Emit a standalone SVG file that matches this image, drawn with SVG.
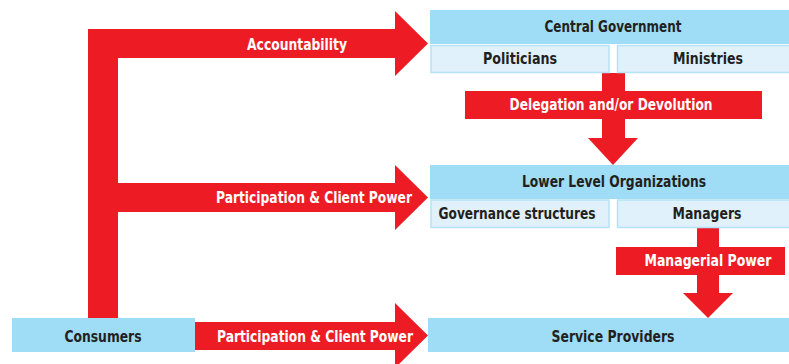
<svg xmlns="http://www.w3.org/2000/svg" width="789" height="364" viewBox="0 0 789 364">
<style>
.hd{fill:#9fdcf5}
.sb{fill:#e0f1fb;stroke:#b5e3f7;stroke-width:1.5}
.ar{fill:#ed1c24}
text{font-family:"DejaVu Sans Condensed","Liberation Sans",sans-serif;font-weight:bold;font-size:16.5px;text-anchor:middle}
.dk{fill:#231f20}
.wt{fill:#ffffff}
</style>
<rect width="789" height="364" fill="#ffffff"/>
<g id="connectors">
<polygon class="ar" points="88,318 88,29 395,29 395,11 428,43.5 395,76 395,58 118,58 118,318"/>
<polygon class="ar" points="118,183 395,183 395,165 428,197.5 395,230 395,212 118,212"/>
<polygon class="ar" points="195,322 395,322 395,303 428,335.5 395,368 395,350 195,350"/>
<polygon class="ar" points="602,73 625,73 625,91 762,91 762,119 625,119 625,138 638,138 613,165 588,138 602,138 602,119 465,119 465,91 602,91"/>
<polygon class="ar" points="697,228 719,228 719,247 785,247 785,275 719,275 719,293 733,293 708,318 683,293 697,293 697,275 616,275 616,247 697,247"/>
<text class="wt" x="297" y="50" textLength="100" lengthAdjust="spacingAndGlyphs">Accountability</text>
<text class="wt" x="314" y="203" textLength="196" lengthAdjust="spacingAndGlyphs">Participation &amp; Client Power</text>
<text class="wt" x="315" y="342" textLength="196" lengthAdjust="spacingAndGlyphs">Participation &amp; Client Power</text>
<text class="wt" x="611" y="110" textLength="203" lengthAdjust="spacingAndGlyphs">Delegation and/or Devolution</text>
<text class="wt" x="708" y="266" textLength="127" lengthAdjust="spacingAndGlyphs" style="font-size:15.5px">Managerial Power</text>
</g>
<g id="central-government">
<rect class="hd" x="430" y="10" width="359" height="34"/>
<text class="dk" x="613" y="32" textLength="137" lengthAdjust="spacingAndGlyphs">Central Government</text>
</g>
<g id="politicians">
<rect class="sb" x="431" y="45.5" width="178" height="27"/>
<text class="dk" x="520" y="64" textLength="74" lengthAdjust="spacingAndGlyphs">Politicians</text>
</g>
<g id="ministries">
<rect class="sb" x="617.5" y="45.5" width="173" height="27"/>
<text class="dk" x="708" y="64" textLength="70" lengthAdjust="spacingAndGlyphs">Ministries</text>
</g>
<g id="lower-level-organizations">
<rect class="hd" x="430" y="165" width="359" height="34"/>
<text class="dk" x="614" y="187" textLength="184" lengthAdjust="spacingAndGlyphs">Lower Level Organizations</text>
</g>
<g id="governance-structures">
<rect class="sb" x="431" y="200" width="178" height="27.5"/>
<text class="dk" x="517" y="219" textLength="157" lengthAdjust="spacingAndGlyphs">Governance structures</text>
</g>
<g id="managers">
<rect class="sb" x="617.5" y="200" width="173" height="27.5"/>
<text class="dk" x="707" y="219" textLength="69" lengthAdjust="spacingAndGlyphs">Managers</text>
</g>
<g id="consumers">
<rect class="hd" x="12" y="318" width="183" height="34"/>
<text class="dk" x="103" y="342" textLength="77" lengthAdjust="spacingAndGlyphs">Consumers</text>
</g>
<g id="service-providers">
<rect class="hd" x="428" y="318" width="361" height="34"/>
<text class="dk" x="613" y="342" textLength="123" lengthAdjust="spacingAndGlyphs">Service Providers</text>
</g>
</svg>
